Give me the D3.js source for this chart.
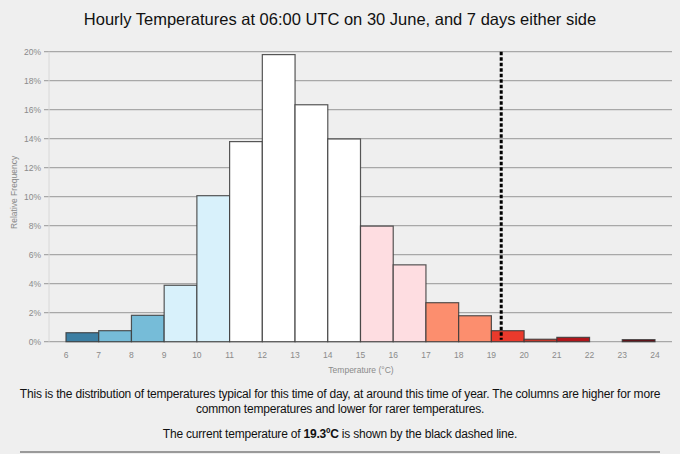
<!DOCTYPE html>
<html>
<head>
<meta charset="utf-8">
<script src="https://cdn.jsdelivr.net/npm/d3@7"></script>
<style>
  body { margin: 0; background: #efefef; font-family: "Liberation Sans", Arial, sans-serif; }
  #chart { position: absolute; left: 0; top: 0; }
  .caption { position: absolute; left: 0; width: 680px; text-align: center; font-size: 12px; color: #111; letter-spacing: -0.2px; }
  .rule { position: absolute; left: 20px; width: 640px; top: 451px; height: 2px; background: #9a9a9a; }
</style>
</head>
<body>
<svg id="chart" width="680" height="380"></svg>
<div class="caption" style="top:387px; line-height:15px; padding:0 4px; box-sizing:border-box;">This is the distribution of temperatures typical for this time of day, at around this time of year. The columns are higher for more common temperatures and lower for rarer temperatures.</div>
<div class="caption" style="top:427px;">The current temperature of <b>19.3ºC</b> is shown by the black dashed line.</div>
<div class="rule"></div>
<script>
// bin start temperatures (°C), each bin 1 degree wide
var bins = [6, 7, 8, 9, 10, 11, 12, 13, 14, 15, 16, 17, 18, 19, 20, 21, 22, 23];
// relative frequency (%) per bin
var freq = [0.62, 0.76, 1.82, 3.89, 10.07, 13.8, 19.8, 16.34, 13.98, 7.97, 5.3, 2.69, 1.79, 0.76, 0.17, 0.3, 0, 0.14];
var colors = ["#3d7fa3", "#76bcd8", "#76bcd8", "#d8f1fb", "#d8f1fb", "#ffffff", "#ffffff", "#ffffff",
              "#ffffff", "#fedde1", "#fedde1", "#fc8e6e", "#fc8e6e", "#ea3a2c", "#c2352a", "#b0161b", "#a50f15", "#6b0a12"];
var yTicks = [0, 2, 4, 6, 8, 10, 12, 14, 16, 18, 20];
var xTicks = d3.range(6, 25);
var current = 19.3;

var svg = d3.select("#chart");

var plotLeft = 49, plotRight = 672;

var x = d3.scaleLinear().domain([6, 24]).range([66, 655]);
var y = d3.scaleLinear().domain([0, 20]).range([341.7, 51.7]);

svg.append("text")
  .attr("x", 340).attr("y", 25)
  .attr("text-anchor", "middle")
  .style("font-size", "16.5px")
  .style("fill", "#111")
  .text("Hourly Temperatures at 06:00 UTC on 30 June, and 7 days either side");

// grid + y labels
var grid = svg.append("g");
grid.selectAll("line")
  .data(yTicks)
  .enter()
  .append("line")
    .attr("x1", 44).attr("x2", plotRight)
    .attr("y1", function (d) { return y(d); })
    .attr("y2", function (d) { return y(d); })
    .attr("stroke", "#a8a8a8")
    .attr("stroke-width", 1.3);

grid.selectAll("text")
  .data(yTicks)
  .enter()
  .append("text")
    .attr("x", 41)
    .attr("y", function (d) { return y(d) + 3; })
    .attr("text-anchor", "end")
    .style("font-size", "8.5px")
    .style("fill", "#8a8a8a")
    .text(function (d) { return d + "%"; });

svg.append("line")
  .attr("x1", plotLeft).attr("x2", plotLeft)
  .attr("y1", y(20)).attr("y2", y(0))
  .attr("stroke", "#d8d8d8");

// bars
var data = bins.map(function (b, i) { return { t: b, v: freq[i], c: colors[i] }; })
  .filter(function (d) { return d.v > 0; });

svg.selectAll("rect.bar")
  .data(data)
  .enter()
  .append("rect")
    .attr("class", "bar")
    .attr("x", function (d) { return x(d.t); })
    .attr("y", function (d) { return y(d.v); })
    .attr("width", function (d) { return x(d.t + 1) - x(d.t); })
    .attr("height", function (d) { return y(0) - y(d.v); })
    .attr("fill", function (d) { return d.c; })
    .attr("stroke", "#3a3a3a")
    .attr("stroke-opacity", 0.85)
    .attr("stroke-width", 1.2);

// x axis labels
svg.append("g").selectAll("text")
  .data(xTicks)
  .enter()
  .append("text")
    .attr("x", function (d) { return x(d); })
    .attr("y", 358)
    .attr("text-anchor", "middle")
    .style("font-size", "8.5px")
    .style("fill", "#8a8a8a")
    .text(function (d) { return d; });

svg.append("text")
  .attr("x", 361).attr("y", 373)
  .attr("text-anchor", "middle")
  .style("font-size", "8.5px")
  .style("fill", "#8a8a8a")
  .text("Temperature (°C)");

svg.append("text")
  .attr("transform", "translate(17," + y(10.3) + ") rotate(-90)")
  .attr("text-anchor", "middle")
  .style("font-size", "8.5px")
  .style("fill", "#8a8a8a")
  .text("Relative Frequency");

// current temperature
svg.append("line")
  .attr("x1", x(current)).attr("x2", x(current))
  .attr("y1", y(20)).attr("y2", y(0) - 2)
  .attr("stroke", "#000")
  .attr("stroke-width", 3)
  .attr("stroke-dasharray", "3.5,2");
</script>
</body>
</html>
